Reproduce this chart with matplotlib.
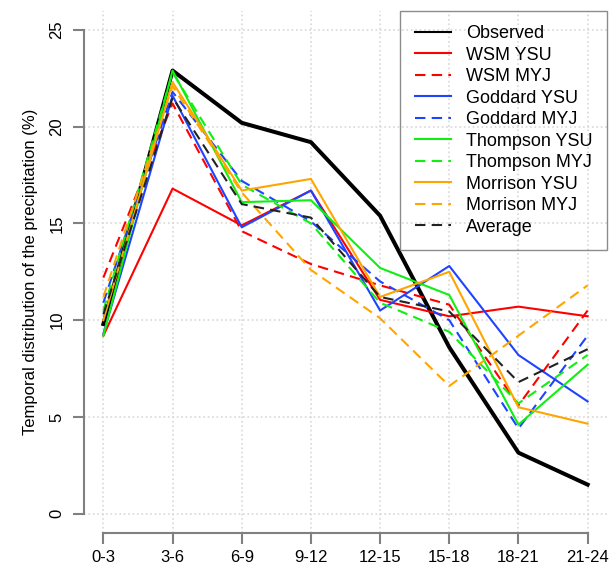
import matplotlib
matplotlib.use("Agg")
import matplotlib.pyplot as plt

plt.rcParams["font.family"] = ["Liberation Sans", "DejaVu Sans"]

periods = ["0-3", "3-6", "6-9", "9-12", "12-15", "15-18", "18-21", "21-24"]

observed = [9.8, 22.9, 20.2, 19.2, 15.4, 8.6, 3.15, 1.5]
wsm_ysu = [9.2, 16.8, 14.9, 16.7, 11.05, 10.2, 10.7, 10.2]
wsm_myj = [12.2, 21.2, 14.6, 12.9, 11.8, 10.8, 5.6, 10.5]
goddard_ysu = [9.3, 21.6, 14.8, 16.7, 10.5, 12.8, 8.2, 5.8]
goddard_myj = [10.9, 21.8, 17.2, 15.1, 12.0, 10.0, 4.4, 9.2]
thompson_ysu = [9.2, 22.9, 16.1, 16.2, 12.7, 11.3, 4.6, 7.7]
thompson_myj = [10.5, 22.8, 17.0, 15.0, 10.9, 9.4, 5.7, 8.2]
morrison_ysu = [10.0, 22.3, 16.7, 17.3, 11.2, 12.5, 5.5, 4.65]
morrison_myj = [11.2, 22.1, 16.6, 12.6, 10.1, 6.6, 9.2, 11.8]
average = [10.3, 21.5, 16.0, 15.3, 11.2, 10.45, 6.8, 8.5]

series = [
    ("Observed", observed, "black", "-", 2.9),
    ("WSM YSU", wsm_ysu, "#ff0000", "-", 1.5),
    ("WSM MYJ", wsm_myj, "#ff0000", "--", 1.5),
    ("Goddard YSU", goddard_ysu, "#1f44ff", "-", 1.5),
    ("Goddard MYJ", goddard_myj, "#1f44ff", "--", 1.5),
    ("Thompson YSU", thompson_ysu, "#11ee11", "-", 1.5),
    ("Thompson MYJ", thompson_myj, "#11ee11", "--", 1.5),
    ("Morrison YSU", morrison_ysu, "#ffa500", "-", 1.5),
    ("Morrison MYJ", morrison_myj, "#ffa500", "--", 1.5),
    ("Average", average, "#222222", "--", 1.5),
]

fig = plt.figure(figsize=(6.14, 5.73), dpi=100)
ax = fig.add_axes([84 / 614, 40 / 573, 523 / 614, 522.4 / 573])

x = list(range(1, len(periods) + 1))
for name, vals, col, ls, lw in series:
    line, = ax.plot(x, vals, color=col, linestyle=ls, linewidth=lw, label=name)
    if ls == "--":
        line.set_dashes((5, 3))

ax.set_xlim(0.72, 8.28)
ax.set_ylim(-1, 26)
ax.set_xticks(x)
ax.set_xticklabels(periods)
ax.set_yticks([0, 5, 10, 15, 20, 25])
for lab in ax.get_yticklabels():
    lab.set_rotation(90)
    lab.set_va("center")

ax.grid(True, color="#d8d8d8", linestyle=":", linewidth=1.2)
ax.set_axisbelow(True)

for s in ("top", "right"):
    ax.spines[s].set_visible(False)
for s in ("left", "bottom"):
    ax.spines[s].set_color("#808080")
    ax.spines[s].set_linewidth(1.5)
ax.spines["left"].set_bounds(0, 25)
ax.spines["bottom"].set_bounds(1, 8)
ax.tick_params(axis="both", colors="#808080", labelcolor="black",
               length=8, width=1.5, labelsize=12, pad=4)
ax.tick_params(axis="y", pad=6)

ax.set_ylabel("Temporal distribution of the precipitation (%)", fontsize=12,
              labelpad=8)

leg = ax.legend(loc="upper right", bbox_to_anchor=(1.0, 1.0), borderaxespad=0,
                fontsize=13, fancybox=False, frameon=True, handlelength=2.0,
                handletextpad=0.85, labelspacing=0.25, borderpad=0.8)
leg.get_frame().set_facecolor("none")
leg.get_frame().set_edgecolor("#707070")
leg.get_frame().set_linewidth(1.0)
for h in leg.get_lines():
    h.set_linewidth(1.5)

fig.savefig("out.png", dpi=100)
